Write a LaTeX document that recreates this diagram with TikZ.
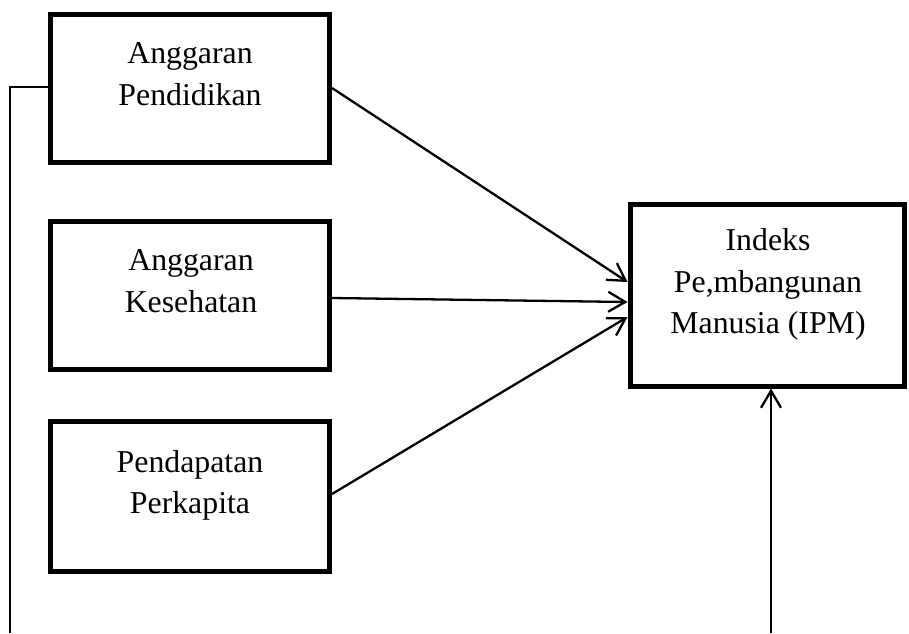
\documentclass[tikz,border=0pt]{standalone}
\usepackage{fontspec}
\setmainfont{Liberation Serif}
\usetikzlibrary{arrows.meta,calc}
\tikzset{
  boxnode/.style={draw=black, line width=2.5pt, rectangle, inner sep=0pt, minimum width=139.5pt},
  lbl/.style={anchor=base, inner sep=0pt, font=\fontsize{15.9pt}{19pt}\selectfont},
  arr/.style={line width=1.15pt, -{Straight Barb[length=8.5pt,width=10pt,line width=1.15pt]}},
  link/.style={line width=0.8pt}
}
\begin{document}
\begin{tikzpicture}[x=0.5pt,y=-0.5pt]
\useasboundingbox (0,0) rectangle (909,633);
% boxes
\node[boxnode, minimum height=74pt] (b1) at (190,88) {};
\node[boxnode, minimum height=74pt] (b2) at (190,295) {};
\node[boxnode, minimum height=75pt] (b3) at (190,496) {};
\node[boxnode, minimum width=137pt, minimum height=91pt] (ipm) at (767,295) {};
% labels
\node[lbl] (l1a) at (190,63) {Anggaran};
\node[lbl] (l1b) at (190,105) {Pendidikan};
\node[lbl] (l2a) at (191,270) {Anggaran};
\node[lbl] (l2b) at (191,312) {Kesehatan};
\node[lbl] (l3a) at (190,472) {Pendapatan};
\node[lbl] (l3b) at (190,513) {Perkapita};
\node[lbl] (l4a) at (768,250) {Indeks};
\node[lbl] (l4b) at (768,292) {Pe,mbangunan};
\node[lbl] (l4c) at (768,333) {Manusia (IPM)};
% coordinates
\coordinate (bus) at (10,633);
\coordinate (bot) at (771,633);
% arrows into IPM
\draw[arr] (b1.east) -- ($(ipm.west)+(0,-13)$);
\draw[arr] ($(b2.east)+(0,3)$) -- ($(ipm.west)+(0,7)$);
\draw[arr] ($(b3.east)+(0,-2)$) -- ($(ipm.west)+(0,22)$);
\draw[arr] (bot) -- (bot |- ipm.south);
% left bus
\draw[link] ($(b1.west)+(0,-1)$) -| (bus);
\draw[link] ($(b2.west)+(0,3)$) -- ($(b2.west)+(0,3)$ -| bus);
\draw[link] ($(b3.west)+(0,-1)$) -- ($(b3.west)+(0,-1)$ -| bus);
\end{tikzpicture}
\end{document}
